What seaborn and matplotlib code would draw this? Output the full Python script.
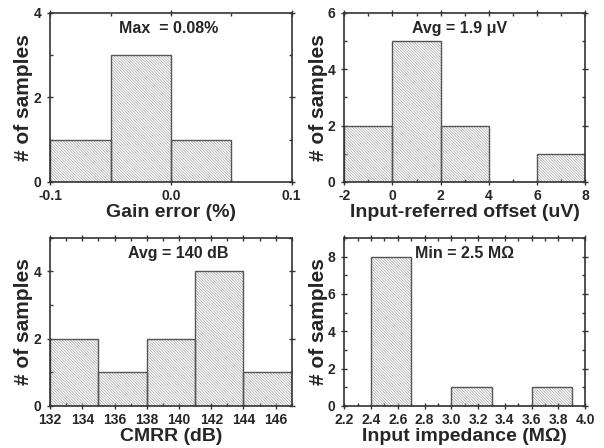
import numpy as np
import pandas as pd
import matplotlib
matplotlib.use("Agg")
import matplotlib.pyplot as plt
from matplotlib.ticker import MultipleLocator
import seaborn as sns

sns.set_style("ticks")
plt.rcParams['font.family'] = ['Liberation Sans', 'DejaVu Sans']
plt.rcParams['font.weight'] = 'bold'
plt.rcParams['hatch.linewidth'] = 0.5

# ---- data (bin edges and counts) ----
gain_edges = [-0.1, -0.05, 0.0, 0.05]
gain_counts = [1, 3, 1]

offset_edges = [-2, 0, 2, 4, 6, 8]
offset_counts = [2, 5, 2, 0, 1]

cmrr_edges = [132, 135, 138, 141, 144, 147]
cmrr_counts = [2, 1, 2, 4, 1]

imp_edges = [2.4, 2.7, 3.0, 3.3, 3.6, 3.9]
imp_counts = [8, 0, 1, 0, 1]

xlabels = ["Gain error (%)", "Input-referred offset (uV)", "CMRR (dB)", "Input impedance (M\u03a9)"]
notes = ["Max  = 0.08%", "Avg = 1.9 \u03bcV", "Avg = 140 dB", "Min = 2.5 M\u03a9"]

panels = [
    dict(edges=gain_edges, counts=gain_counts, xlim=(-0.1, 0.1), xmaj=0.1, xmin=0.05,
         ylim=(0, 4), ymaj=2, fmt="{:.1f}", pos=[0.083, 0.594, 0.400, 0.377], note_x=0.49),
    dict(edges=offset_edges, counts=offset_counts, xlim=(-2, 8), xmaj=2, xmin=1,
         ylim=(0, 6), ymaj=2, fmt="{:.0f}", pos=[0.570, 0.594, 0.399, 0.377], note_x=0.48),
    dict(edges=cmrr_edges, counts=cmrr_counts, xlim=(132, 147), xmaj=2, xmin=1,
         ylim=(0, 5), ymaj=2, fmt="{:.0f}", pos=[0.083, 0.094, 0.400, 0.375], note_x=0.53),
    dict(edges=imp_edges, counts=imp_counts, xlim=(2.2, 4.0), xmaj=0.2, xmin=0.1,
         ylim=(0, 9), ymaj=2, fmt="{:.1f}", pos=[0.570, 0.094, 0.399, 0.375], note_x=0.5),
]

fig = plt.figure(figsize=(6.04, 4.48), dpi=100)

for p, xl, note in zip(panels, xlabels, notes):
    ax = fig.add_axes(p["pos"])
    edges = [float(e) for e in p["edges"]]
    centers = [(a + b) / 2 for a, b in zip(edges[:-1], edges[1:])]
    df = pd.DataFrame({"x": centers, "w": p["counts"]})
    # hatched fill
    sns.histplot(data=df, x="x", weights="w", bins=edges, ax=ax,
                 fill=False, color="#b0b0b0", element="bars", linewidth=0)
    for patch in ax.patches:
        patch.set_hatch("\\" * 12)
        patch.set_edgecolor("#a8a8a8")
        patch.set_linewidth(0)
    # outlines
    sns.histplot(data=df, x="x", weights="w", bins=edges, ax=ax,
                 fill=False, color="#555555", element="bars", linewidth=1.0)
    ax.set_xlim(*p["xlim"])
    ax.set_ylim(*p["ylim"])
    ax.xaxis.set_major_locator(MultipleLocator(p["xmaj"]))
    ax.yaxis.set_major_locator(MultipleLocator(p["ymaj"]))
    ax.yaxis.set_minor_locator(MultipleLocator(1))
    fmt = p["fmt"]
    ticks = [t for t in ax.get_xticks() if p["xlim"][0] - 1e-9 <= t <= p["xlim"][1] + 1e-9]
    ax.set_xticks(ticks)
    ax.set_xticklabels([fmt.format(0.0 if abs(v) < 1e-9 else v) for v in ticks])
    ax.xaxis.set_minor_locator(MultipleLocator(p["xmin"]))
    ax.set_xlim(*p["xlim"])
    ax.tick_params(which="both", top=True, right=True,
                   labelsize=10, width=1, color="#333333")
    ax.tick_params(which="major", direction="inout", length=5)
    ax.tick_params(axis="x", which="major", pad=2.5)
    ax.tick_params(axis="y", which="major", pad=4)
    ax.tick_params(which="minor", direction="in", length=2.5)
    for lab in ax.get_xticklabels() + ax.get_yticklabels():
        lab.set_fontweight("bold")
    for s in ax.spines.values():
        s.set_visible(True)
        s.set_linewidth(1.2)
        s.set_color("#333333")
    ax.set_xlabel(xl, fontsize=14, fontweight="bold", labelpad=1)
    ax.set_ylabel("# of samples", fontsize=15, fontweight="bold", labelpad=0)
    ax.text(p["note_x"], 0.91, note, transform=ax.transAxes, ha="center", va="center",
            fontsize=11.5, fontweight="bold")

fig.savefig("out.png", dpi=100)
